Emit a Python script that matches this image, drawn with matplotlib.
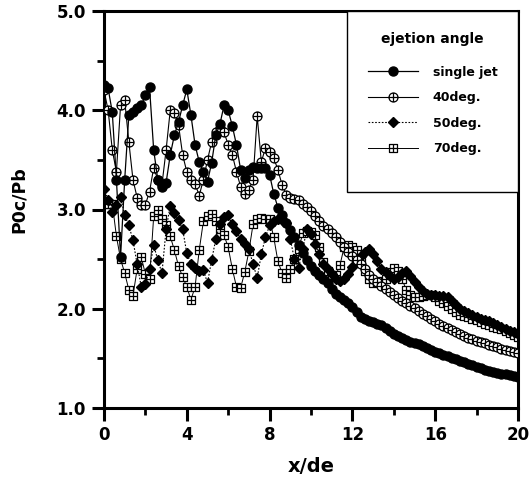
import numpy as np
import matplotlib.pyplot as plt
from matplotlib.path import Path
from matplotlib.patches import Rectangle
from matplotlib.ticker import MultipleLocator

plt.rcParams['font.family'] = ['DejaVu Sans']
plt.rcParams['font.weight'] = 'bold'

# x/de sampling positions (0 .. 20, every 0.2)
x = np.round(np.arange(0, 20.01, 0.2), 1)

single_jet = [4.25, 4.22, 3.98, 3.30, 2.52, 3.30, 3.95, 3.98, 4.02, 4.05,
              4.15, 4.23, 3.60, 3.30, 3.23, 3.27, 3.55, 3.75, 3.88, 4.05,
              4.21, 3.95, 3.65, 3.48, 3.38, 3.28, 3.47, 3.75, 3.86, 4.05,
              4.00, 3.84, 3.65, 3.40, 3.32, 3.40, 3.43, 3.42, 3.42, 3.42,
              3.35, 3.16, 3.02, 2.94, 2.86, 2.79, 2.72, 2.64, 2.56, 2.49,
              2.43, 2.38, 2.34, 2.30, 2.26, 2.20, 2.15, 2.12, 2.09, 2.06,
              2.02, 1.97, 1.92, 1.90, 1.88, 1.87, 1.85, 1.84, 1.81, 1.78,
              1.75, 1.73, 1.71, 1.69, 1.67, 1.65, 1.64, 1.62, 1.60, 1.58,
              1.56, 1.55, 1.53, 1.52, 1.50, 1.49, 1.47, 1.46, 1.44, 1.43,
              1.41, 1.40, 1.38, 1.37, 1.36, 1.35, 1.34, 1.34, 1.33, 1.32,
              1.31]

deg40 = [4.20, 4.00, 3.60, 3.38, 4.05, 4.10, 3.68, 3.30, 3.12, 3.05,
         3.05, 3.18, 3.42, 3.30, 3.25, 3.60, 4.00, 3.97, 3.85, 3.55,
         3.38, 3.30, 3.26, 3.14, 3.30, 3.50, 3.68, 3.78, 3.82, 3.78,
         3.65, 3.55, 3.38, 3.23, 3.16, 3.20, 3.30, 3.94, 3.48, 3.62,
         3.58, 3.52, 3.40, 3.25, 3.15, 3.12, 3.11, 3.10, 3.06, 3.03,
         2.98, 2.93, 2.88, 2.83, 2.80, 2.76, 2.72, 2.67, 2.62, 2.57,
         2.53, 2.49, 2.45, 2.40, 2.34, 2.30, 2.27, 2.23, 2.20, 2.17,
         2.14, 2.11, 2.08, 2.06, 2.03, 2.01, 1.98, 1.95, 1.93, 1.90,
         1.88, 1.85, 1.83, 1.81, 1.79, 1.77, 1.75, 1.73, 1.71, 1.70,
         1.68, 1.67, 1.65, 1.63, 1.62, 1.61, 1.59, 1.58, 1.57, 1.56,
         1.55]

deg50 = [3.21, 3.10, 2.97, 3.05, 3.13, 2.94, 2.84, 2.69, 2.45, 2.22,
         2.25, 2.40, 2.64, 2.49, 2.36, 2.80, 3.04, 2.96, 2.89, 2.80,
         2.56, 2.45, 2.41, 2.38, 2.39, 2.26, 2.49, 2.70, 2.85, 2.92,
         2.94, 2.85, 2.78, 2.70, 2.65, 2.60, 2.45, 2.31, 2.55, 2.72,
         2.84, 2.88, 2.90, 2.89, 2.86, 2.70, 2.50, 2.41, 2.60, 2.80,
         2.75, 2.65, 2.55, 2.45, 2.40, 2.35, 2.30, 2.28, 2.30, 2.35,
         2.42, 2.48, 2.53, 2.57, 2.60, 2.55, 2.48, 2.40, 2.37, 2.33,
         2.30, 2.32, 2.36, 2.38, 2.33, 2.27, 2.22, 2.18, 2.15, 2.14,
         2.14, 2.13, 2.13, 2.12, 2.08, 2.04, 2.00, 1.98, 1.96, 1.94,
         1.92, 1.90, 1.89, 1.88, 1.86, 1.84, 1.82, 1.80, 1.78, 1.77,
         1.75]

deg70 = [3.06, 3.06, 3.06, 2.73, 2.50, 2.36, 2.19, 2.13, 2.40, 2.52,
         2.35, 2.30, 2.93, 3.00, 2.90, 2.84, 2.73, 2.59, 2.43, 2.32,
         2.22, 2.09, 2.22, 2.59, 2.88, 2.93, 2.95, 2.88, 2.80, 2.74,
         2.62, 2.40, 2.22, 2.21, 2.37, 2.58, 2.85, 2.90, 2.91, 2.90,
         2.90, 2.72, 2.48, 2.36, 2.31, 2.40, 2.50, 2.60, 2.76, 2.78,
         2.77, 2.74, 2.62, 2.47, 2.38, 2.34, 2.34, 2.44, 2.62, 2.64,
         2.62, 2.59, 2.48, 2.38, 2.30, 2.26, 2.27, 2.28, 2.30, 2.37,
         2.41, 2.38, 2.30, 2.19, 2.14, 2.12, 2.12, 2.13, 2.14, 2.14,
         2.12, 2.08, 2.06, 2.03, 2.00, 1.97, 1.94, 1.93, 1.92, 1.90,
         1.89, 1.87, 1.85, 1.84, 1.82, 1.81, 1.80, 1.78, 1.76, 1.74,
         1.72]

labels = ["single jet", "40deg.", "50deg.", "70deg."]

# marker shapes: circle with cross, square with cross
cross = [Path([[-1, 0], [1, 0]], [Path.MOVETO, Path.LINETO]),
         Path([[0, -1], [0, 1]], [Path.MOVETO, Path.LINETO])]
circ_cross = Path.make_compound_path(Path.unit_circle(), *cross)
square = Path([[-1, -1], [1, -1], [1, 1], [-1, 1], [-1, -1]],
              [Path.MOVETO, Path.LINETO, Path.LINETO, Path.LINETO, Path.CLOSEPOLY])
sq_cross = Path.make_compound_path(square, *cross)

fig = plt.figure(figsize=(5.32, 4.8), dpi=100)
ax = fig.add_axes([104 / 532, 1 - 408 / 480, 414 / 532, 397 / 480])

ax.plot(x, deg70, color='k', lw=0.7, marker=sq_cross, ms=6, mfc='white',
        mec='k', mew=0.9, label=labels[3], zorder=2)
ax.plot(x, deg50, color='k', lw=0.8, ls=(0, (1.5, 1.5)), marker='D', ms=5,
        mfc='k', mec='k', label=labels[2], zorder=3)
ax.plot(x, deg40, color='k', lw=0.8, marker=circ_cross, ms=6.5, mfc='white',
        mec='k', mew=0.9, label=labels[1], zorder=4)
ax.plot(x, single_jet, color='k', lw=0.9, marker='o', ms=6.5, mfc='k',
        mec='k', label=labels[0], zorder=5)

ax.set_xlim(0, 20)
ax.set_ylim(1.0, 5.0)
ax.xaxis.set_major_locator(MultipleLocator(4))
ax.xaxis.set_minor_locator(MultipleLocator(2))
ax.yaxis.set_major_locator(MultipleLocator(1))
ax.yaxis.set_minor_locator(MultipleLocator(0.5))
ax.set_yticklabels([f"{v:.1f}" for v in ax.get_yticks()])
ax.tick_params(which='major', direction='out', length=9, width=2.2, labelsize=12, pad=4)
ax.tick_params(which='minor', direction='out', length=5, width=2.0)
for sp in ax.spines.values():
    sp.set_linewidth(2.2)

ax.set_xlabel("x/de", fontsize=14, fontweight='bold', labelpad=9)
ax.set_ylabel("P0c/Pb", fontsize=12.5, fontweight='bold')
ax.yaxis.set_label_coords(-0.185, 0.525)

# legend box
ax.add_patch(Rectangle((0.587, 0.544), 0.413, 0.456, transform=ax.transAxes,
                       fill=True, fc='white', ec='k', lw=1.0, zorder=6))
h, l = ax.get_legend_handles_labels()
leg = ax.legend(h[::-1], l[::-1], title="ejetion angle", loc='upper left',
                bbox_to_anchor=(0.61, 0.975), frameon=False, fontsize=9,
                title_fontproperties={'weight': 'bold', 'size': 10},
                handlelength=4.0, handletextpad=1.2, labelspacing=1.0)
leg.set_zorder(7)
leg._legend_box.align = "center"
leg._legend_box.sep = 14

fig.savefig("out.png", dpi=100)
